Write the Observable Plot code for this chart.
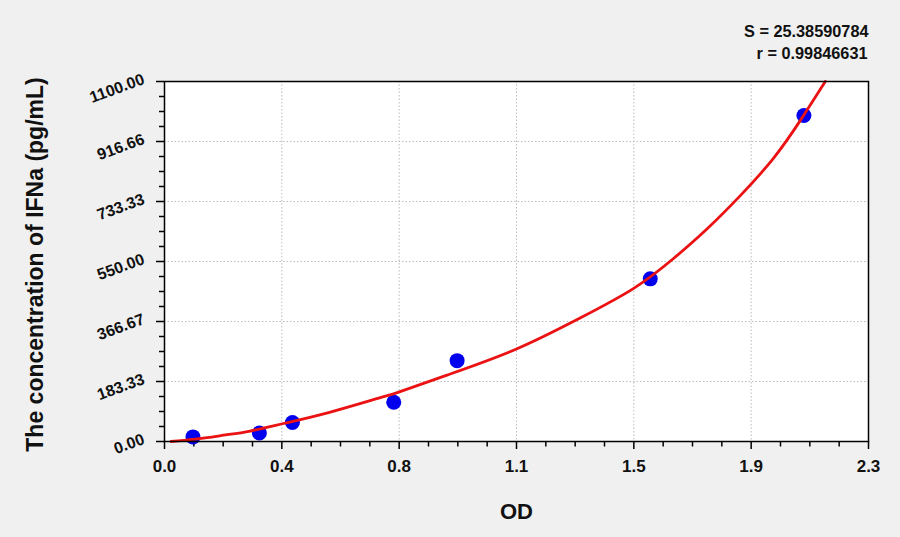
<!DOCTYPE html>
<html>
<head>
<meta charset="utf-8">
<script src="https://cdn.jsdelivr.net/npm/d3@7"></script>
<script src="https://cdn.jsdelivr.net/npm/@observablehq/plot@0.6"></script>
<style>
  html, body { margin: 0; padding: 0; background: #f0f0f0; }
</style>
</head>
<body>
<div id="chart"></div>
<script>
// Standard points (OD, concentration pg/mL)
const od = [0.093, 0.310, 0.418, 0.749, 0.956, 1.587, 2.089];
const conc = [14, 26, 58, 120, 247, 497, 996];

// Fitted curve
const curveOD = [0.021, 0.1, 0.2, 0.28, 0.389, 0.542, 0.705, 0.765, 0.923, 1.148, 1.359, 1.533, 1.664, 1.773, 1.882, 1.99, 2.078, 2.159];
const curveConc = [0, 7, 20, 32, 55, 90, 134, 151, 203, 282, 378, 468, 560, 650, 752, 866, 982, 1100];

const xTickLabels = ["0.0", "0.4", "0.8", "1.1", "1.5", "1.9", "2.3"];
const yTickLabels = ["0.00", "183.33", "366.67", "550.00", "733.33", "916.66", "1100.00"];
const xMax = 2.3;
const yMax = 1100;

const stats = ["S = 25.38590784", "r = 0.99846631"];
const xTitle = "OD";
const yTitle = "The concentration of IFNa (pg/mL)";

const points = od.map((x, i) => ({x, y: conc[i]}));
const curve = curveOD.map((x, i) => ({x, y: curveConc[i]}));
const nX = xTickLabels.length - 1, nY = yTickLabels.length - 1;
const xMajor = xTickLabels.map((t, i) => ({v: i * xMax / nX, t}));
const yMajor = yTickLabels.map((t, i) => ({v: i * yMax / nY, t}));
const xMinor = d3.range(nX * 4 + 1).filter(i => i % 4).map(i => i * xMax / (nX * 4));
const yMinor = d3.range(nY * 4 + 1).filter(i => i % 4).map(i => i * yMax / (nY * 4));

const font = "'Liberation Sans', Arial, sans-serif";

const chart = Plot.plot({
  width: 900,
  height: 537,
  marginLeft: 164,
  marginRight: 32,
  marginTop: 81,
  marginBottom: 96,
  style: {background: "#f0f0f0", fontFamily: font, color: "black"},
  x: {domain: [0, xMax], axis: null},
  y: {domain: [0, yMax], axis: null},
  marks: [
    Plot.frame({fill: "white", stroke: null}),
    Plot.gridX(xMajor.slice(1, -1).map(d => d.v), {stroke: "#bdbdbd", strokeOpacity: 1, strokeDasharray: "1.5,2"}),
    Plot.gridY(yMajor.slice(1, -1).map(d => d.v), {stroke: "#bdbdbd", strokeOpacity: 1, strokeDasharray: "1.5,2"}),
    Plot.axisX(xMajor.map(d => d.v), {tickSize: 8, tickFormat: () => "", stroke: "black", strokeWidth: 1.5}),
    Plot.axisX(xMinor, {tickSize: 5.5, tickFormat: () => "", stroke: "black", strokeWidth: 1.5}),
    Plot.axisY(yMajor.map(d => d.v), {tickSize: 8, tickFormat: () => "", stroke: "black", strokeWidth: 1.5}),
    Plot.axisY(yMinor, {tickSize: 5, tickFormat: () => "", stroke: "black", strokeWidth: 1.5}),
    Plot.text(xMajor, {x: "v", y: 0, text: "t", dy: 30, lineAnchor: "bottom", fontSize: 17, fontWeight: "bold", fill: "#111"}),
    Plot.text(yMajor, {x: 0, y: "v", text: "t", dx: -19, dy: 2, rotate: -20, textAnchor: "end", lineAnchor: "bottom", fontSize: 16, fontWeight: "bold", fill: "#111"}),
    Plot.text([xTitle], {frameAnchor: "bottom", dy: 77, lineAnchor: "bottom", fontSize: 22, fontWeight: "bold", fill: "#111"}),
    Plot.text([yTitle], {frameAnchor: "left", dx: -122, dy: 3, rotate: -90, textAnchor: "middle", lineAnchor: "bottom", fontSize: 23, fontWeight: "bold", fill: "#111"}),
    Plot.text([stats[0]], {frameAnchor: "top-right", dy: -45, textAnchor: "end", lineAnchor: "bottom", fontSize: 16.3, fontWeight: "bold", fill: "#111"}),
    Plot.text([stats[1]], {frameAnchor: "top-right", dx: -1, dy: -23, textAnchor: "end", lineAnchor: "bottom", fontSize: 16.3, fontWeight: "bold", fill: "#111"}),
    Plot.dot(points, {x: "x", y: "y", r: 7.5, fill: "#0000ee", stroke: null}),
    Plot.line(curve, {x: "x", y: "y", stroke: "#ea1212", strokeWidth: 2.8, curve: "natural"}),
    Plot.frame({stroke: "black", strokeWidth: 1.5})
  ]
});
document.getElementById("chart").appendChild(chart);
</script>
</body>
</html>
